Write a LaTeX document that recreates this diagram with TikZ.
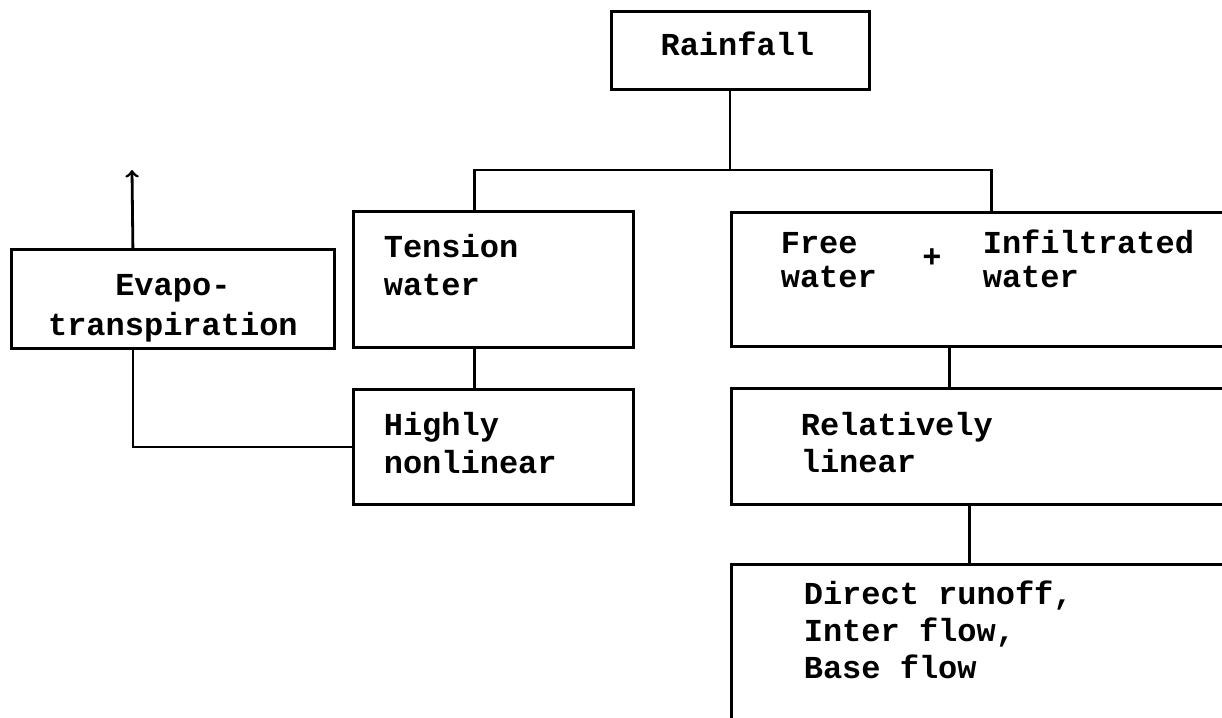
\documentclass[tikz,border=0pt]{standalone}
\usepackage{fontspec}
\setmonofont{Liberation Mono}
\usetikzlibrary{positioning}

\begin{document}
\begin{tikzpicture}[x=0.5pt, y=-0.5pt, thick,
    box/.style = {draw, rectangle, line width=1.4pt, anchor=north west, inner sep=0pt},
    txt/.style = {font=\ttfamily\bfseries\fontsize{16}{19}\selectfont, align=left, inner sep=0pt, anchor=base west},
    link/.style = {line width=1.4pt}]
    \useasboundingbox (0,0) rectangle (1222,718);
    \clip (0,0) rectangle (1222,718);

    % boxes
    \node[box, minimum width=129pt, minimum height=39pt] (rain) at (610,10) {};
    \node[box, minimum width=140pt, minimum height=68pt] (tension) at (352,210) {};
    \node[box, minimum width=260pt, minimum height=67pt] (free) at (730,211) {};
    \node[box, minimum width=161.5pt, minimum height=49.5pt] (evapo) at (10,248) {};
    \node[box, minimum width=140pt, minimum height=57.5pt] (highly) at (352,388) {};
    \node[box, minimum width=260pt, minimum height=58pt] (rel) at (730,387) {};
    \node[box, minimum width=260pt, minimum height=89pt] (direct) at (730,563) {};

    % texts (base = last line)
    \node[txt, anchor=base] (rain-txt) at ([shift={(-3,45)}]rain.north) {Rainfall};
    \node[txt, align=center, anchor=base, font=\ttfamily\bfseries\fontsize{16}{20}\selectfont] (evapo-txt) at ([shift={(0,87)}]evapo.north) {Evapo-\\transpiration};
    \node[txt] (tension-txt) at ([shift={(31,85)}]tension.north west) {Tension\\water};
    \node[txt, font=\ttfamily\bfseries\fontsize{16}{17}\selectfont] (free-txt) at ([shift={(50,76)}]free.north west) {Free\\water};
    \node[font=\ttfamily\bfseries\fontsize{16}{19}\selectfont, inner sep=0pt] (plus) at ([shift={(202,47)}]free.north west) {+};
    \node[txt, font=\ttfamily\bfseries\fontsize{16}{17}\selectfont] (infil-txt) at ([shift={(252,76)}]free.north west) {Infiltrated\\water};
    \node[txt] (highly-txt) at ([shift={(31,85)}]highly.north west) {Highly\\nonlinear};
    \node[txt, font=\ttfamily\bfseries\fontsize{16}{18.5}\selectfont] (rel-txt) at ([shift={(70,85)}]rel.north west) {Relatively\\linear};
    \node[txt, font=\ttfamily\bfseries\fontsize{16}{18.5}\selectfont] (direct-txt) at ([shift={(73,115)}]direct.north west) {Direct runoff,\\Inter flow,\\Base flow};

    % connectors
    \coordinate (split) at (730,170);
    \coordinate (et) at (132,170);
    \draw[link] (rain.south -| split) -- (split);
    \draw[link] ([xshift=-9.5pt]tension.north) |- (split) -| (free.north);
    \draw[link] ([xshift=-9.5pt]tension.south) -- ([xshift=-9.5pt]highly.north);
    \draw[link] ([xshift=-21pt]free.south) -- ([xshift=-21pt]rel.north);
    \draw[link] ([xshift=-11pt]rel.south) -- ([xshift=-11pt]direct.north);
    \draw[link] (highly.west) -| ([xshift=-20pt]evapo.south);
    \draw[link, ->] ([xshift=-20pt]evapo.north) -- (et);

\end{tikzpicture}
\end{document}
